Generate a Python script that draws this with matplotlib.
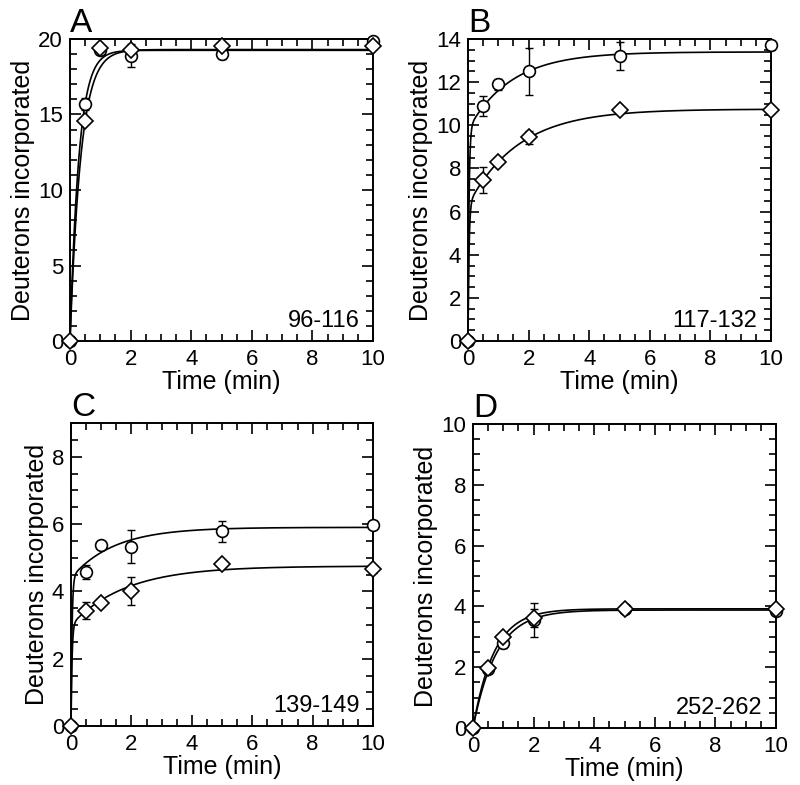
import numpy as np
import matplotlib
matplotlib.use("Agg")
import matplotlib.pyplot as plt
from matplotlib.ticker import MultipleLocator

plt.rcParams['font.family'] = ['Liberation Sans', 'DejaVu Sans']

# ---------------- data ----------------
times = [0, 0.5, 1, 2, 5, 10]

A_circle = [0, 15.7, 19.3, 18.9, 19.0, 19.9]
A_circle_err = [0, 0.4, 0.3, 0.75, 0.35, 0.2]
A_diamond = [0, 14.6, 19.4, 19.25, 19.55, 19.55]
A_diamond_err = [0, 0.2, 0.2, 0.3, 0.2, 0.2]

B_circle = [0, 10.9, 11.9, 12.5, 13.2, 13.7]
B_circle_err = [0, 0.45, 0.25, 1.1, 0.65, 0.2]
B_diamond = [0, 7.45, 8.3, 9.45, 10.7, 10.7]
B_diamond_err = [0, 0.6, 0.15, 0.3, 0.1, 0.1]

C_circle = [0, 4.57, 5.38, 5.33, 5.78, 5.97]
C_circle_err = [0, 0.2, 0.12, 0.5, 0.3, 0.1]
C_diamond = [0, 3.42, 3.65, 4.0, 4.82, 4.65]
C_diamond_err = [0, 0.25, 0.1, 0.42, 0.1, 0.1]

D_circle = [0, 1.95, 2.78, 3.55, 3.9, 3.85]
D_circle_err = [0, 0.1, 0.15, 0.55, 0.1, 0.1]
D_diamond = [0, 1.98, 3.0, 3.63, 3.92, 3.92]
D_diamond_err = [0, 0.1, 0.1, 0.3, 0.1, 0.1]

# fitted exponential parameters (a1, k1, a2, k2)
A_circle_fit = [19.25, 3.4, 0.0, 1.0]
A_diamond_fit = [19.3, 2.8, 0.0, 1.0]
B_circle_fit = [9.8, 30.0, 3.6, 0.7]
B_diamond_fit = [6.3, 30.0, 4.45, 0.6]
C_circle_fit = [4.4, 30.0, 1.5, 0.7]
C_diamond_fit = [3.0, 30.0, 1.75, 0.55]
D_circle_fit = [3.88, 1.3, 0.0, 1.0]
D_diamond_fit = [3.92, 1.45, 0.0, 1.0]

panel_letters = ['A', 'B', 'C', 'D']
peptides = ['96-116', '117-132', '139-149', '252-262']
y_max = [20, 14, 9, 10]
y_major = [5, 2, 2, 2]
y_minor = [1, 0.5, 0.5, 0.5]

panels = [
    (A_circle, A_circle_err, A_diamond, A_diamond_err, A_circle_fit, A_diamond_fit),
    (B_circle, B_circle_err, B_diamond, B_diamond_err, B_circle_fit, B_diamond_fit),
    (C_circle, C_circle_err, C_diamond, C_diamond_err, C_circle_fit, C_diamond_fit),
    (D_circle, D_circle_err, D_diamond, D_diamond_err, D_circle_fit, D_diamond_fit),
]

# axes rectangles in pixels: left, right, top, bottom
W, H = 800, 785
rects_px = [(70, 373, 39, 341), (468, 771, 39, 341),
            (71, 373, 423, 726), (473, 776, 424, 728)]

FS = 16


def fit_curve(p, t):
    a1, k1, a2, k2 = p
    return a1 * (1 - np.exp(-k1 * t)) + a2 * (1 - np.exp(-k2 * t))


fig = plt.figure(figsize=(W / 100, H / 100), dpi=100)
tgrid = np.linspace(0, 10, 3000)

for i, (yc, ec, yd, ed, fc, fd) in enumerate(panels):
    l, r, t, b = rects_px[i]
    ax = fig.add_axes([l / W, (H - b) / H, (r - l) / W, (b - t) / H])

    ax.plot(tgrid, fit_curve(fc, tgrid), color='black', lw=1.2, zorder=2)
    ax.plot(tgrid, fit_curve(fd, tgrid), color='black', lw=1.2, zorder=2)

    ax.errorbar(times, yc, yerr=ec, fmt='none', ecolor='black', elinewidth=1.0,
                capsize=3.2, capthick=1.0, zorder=3, clip_on=False)
    ax.errorbar(times, yd, yerr=ed, fmt='none', ecolor='black', elinewidth=1.0,
                capsize=3.2, capthick=1.0, zorder=3, clip_on=False)
    ax.plot(times, yc, linestyle='none', marker='o', ms=8.5, mfc='white',
            mec='black', mew=1.2, zorder=4, clip_on=False)
    ax.plot(times, yd, linestyle='none', marker='D', ms=8, mfc='white',
            mec='black', mew=1.2, zorder=5, clip_on=False)

    ax.set_xlim(0, 10)
    ax.set_ylim(0, y_max[i])
    ax.xaxis.set_major_locator(MultipleLocator(2))
    ax.xaxis.set_minor_locator(MultipleLocator(0.5))
    ax.yaxis.set_major_locator(MultipleLocator(y_major[i]))
    ax.yaxis.set_minor_locator(MultipleLocator(y_minor[i]))
    ax.tick_params(which='both', direction='in', top=True, right=True,
                   width=1.2, labelsize=FS, color='black')
    ax.tick_params(which='major', length=8)
    ax.tick_params(which='minor', length=5)
    ax.tick_params(axis='x', which='major', pad=6)
    ax.tick_params(axis='y', which='major', pad=5)
    for s in ax.spines.values():
        s.set_linewidth(1.4)

    ax.set_xlabel('Time (min)', fontsize=18, labelpad=0)
    ax.set_ylabel('Deuterons incorporated', fontsize=18, labelpad=2)

    ax.text(0.0, 1.0, panel_letters[i], transform=ax.transAxes,
            fontsize=24, ha='left', va='bottom')
    ax.text(0.955, 0.03, peptides[i], transform=ax.transAxes,
            fontsize=17, ha='right', va='bottom')

fig.savefig('out.png', dpi=100)
